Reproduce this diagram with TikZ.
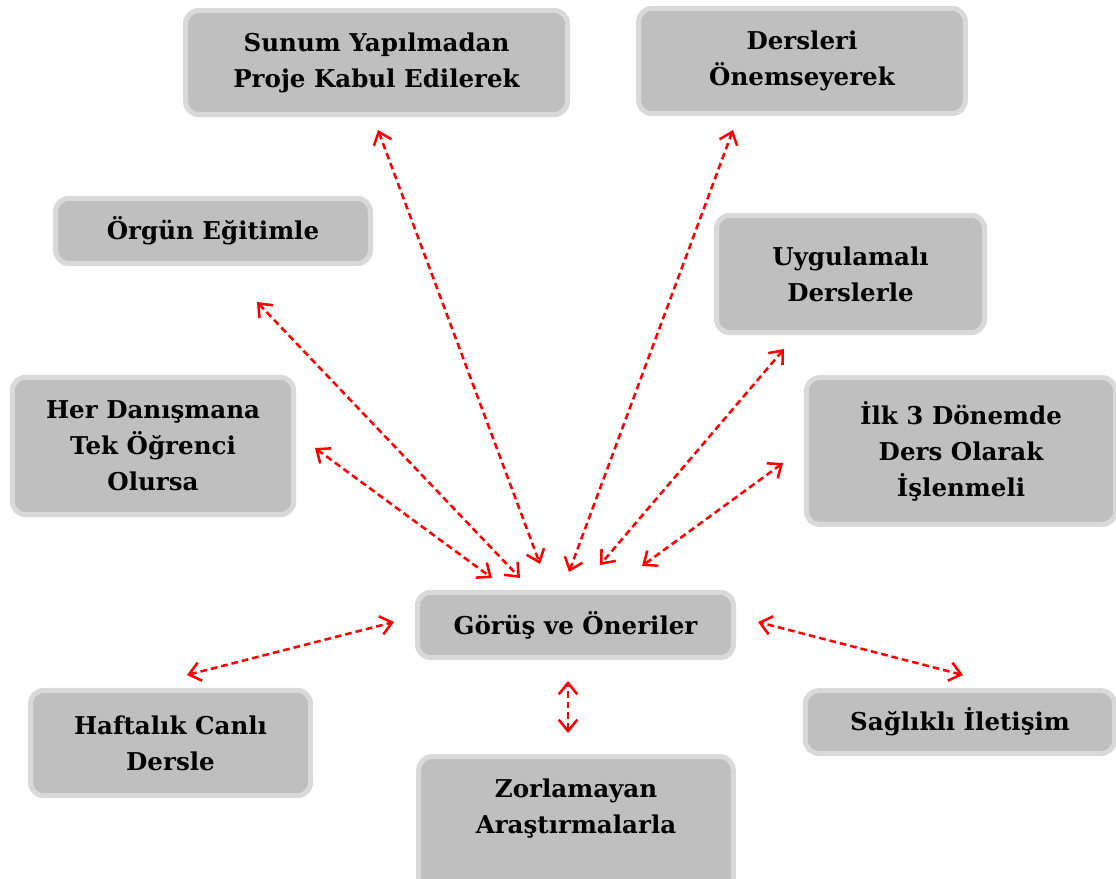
\documentclass[tikz,border=0pt]{standalone}
\usepackage{fontspec}
\setmainfont{DejaVu Serif}
\usetikzlibrary{arrows.meta}
\definecolor{boxfill}{HTML}{BFBFBF}
\definecolor{boxline}{HTML}{D9D9D9}

\begin{document}
\begin{tikzpicture}[x=0.75pt,y=-0.75pt,
    box/.style={draw=boxline,fill=boxfill,line width=3.75pt,rounded corners=10pt,
      align=center,inner sep=0pt,font=\bfseries\fontsize{18.4}{27}\selectfont},
    link/.style={red,line width=1.9pt,dash pattern=on 5pt off 3pt,
      {Straight Barb[length=8.5pt,width=14pt]}-{Straight Barb[length=8.5pt,width=14pt]}}]
    \clip (0,0) rectangle (1116,878);
    \fill[white] (0,0) rectangle (1116,878);

    % boxes
    \node[box,minimum width=286.5pt,minimum height=78pt] (sunum) at (376.5,62.5) {Sunum Yapılmadan\\Proje Kabul Edilerek};
    \node[box,minimum width=245pt,minimum height=79pt] (dersleri) at (802,61) {Dersleri\\Önemseyerek};
    \node[box,minimum width=236pt,minimum height=49pt] (orgun) at (213,231) {Örgün Eğitimle};
    \node[box,minimum width=201pt,minimum height=88pt] (uygulamali) at (850.5,274) {Uygulamalı\\Derslerle};
    \node[box,minimum width=211pt,minimum height=103pt] (danisman) at (153,446) {Her Danışmana\\Tek Öğrenci\\Olursa};
    \node[box,minimum width=232pt,minimum height=110pt] (donem) at (961,451) {İlk 3 Dönemde\\Ders Olarak\\İşlenmeli};
    \node[box,minimum width=237pt,minimum height=49pt] (gorus) at (575.5,625) {Görüş ve Öneriler};
    \node[box,minimum width=210pt,minimum height=79pt] (haftalik) at (170.5,743) {Haftalık Canlı\\Dersle};
    \node[box,minimum width=232pt,minimum height=47pt] (iletisim) at (960,722) {Sağlıklı İletişim};
    \node[box,minimum width=236pt,minimum height=110pt] (zorlamayan) at (576,830) {};
    \node[box,draw=none,fill=none] (zorlamayanText) at (576,809) {Zorlamayan\\Araştırmalarla};

    % arrow ends
    \coordinate (sunumA) at (378,130);
    \coordinate (sunumB) at (540,564);
    \coordinate (derslerA) at (733,130);
    \coordinate (derslerB) at (569,572);
    \coordinate (orgunA) at (257,302);
    \coordinate (orgunB) at (520,578);
    \coordinate (uygulamaliA) at (784,349);
    \coordinate (uygulamaliB) at (600,565);
    \coordinate (danismanA) at (315,448);
    \coordinate (danismanB) at (492,578);
    \coordinate (donemA) at (783,463);
    \coordinate (donemB) at (642,566);
    \coordinate (haftalikA) at (187,675);
    \coordinate (haftalikB) at (394,622);
    \coordinate (iletisimA) at (963,675);
    \coordinate (iletisimB) at (758,622);
    \coordinate (zorlamayanA) at (568,733);
    \coordinate (zorlamayanB) at (568,681);

    \draw[link] (sunumA) -- (sunumB);
    \draw[link] (derslerA) -- (derslerB);
    \draw[link] (orgunA) -- (orgunB);
    \draw[link] (uygulamaliA) -- (uygulamaliB);
    \draw[link] (danismanA) -- (danismanB);
    \draw[link] (donemA) -- (donemB);
    \draw[link] (haftalikA) -- (haftalikB);
    \draw[link] (iletisimA) -- (iletisimB);
    \draw[link] (zorlamayanA) -- (zorlamayanB);
\end{tikzpicture}
\end{document}
